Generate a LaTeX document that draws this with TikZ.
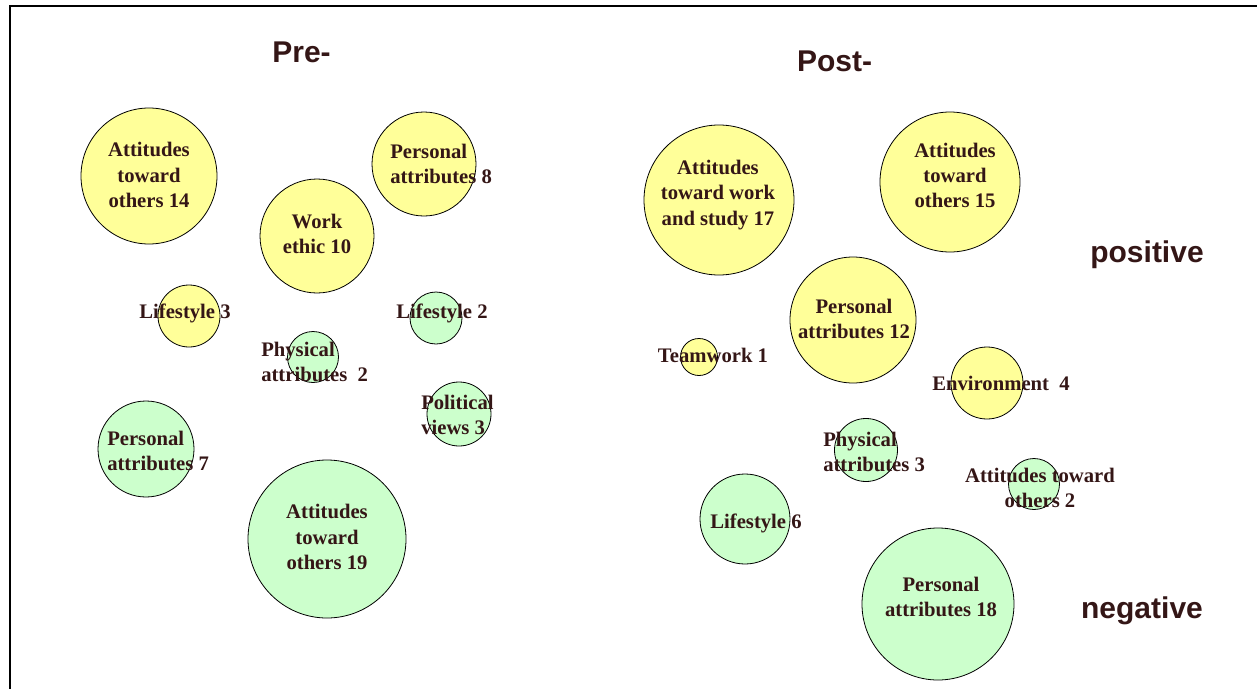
\documentclass[tikz,border=0pt]{standalone}
\usepackage{fontspec}
\setmainfont{Liberation Serif}
\newfontfamily\headsans{Liberation Sans}
\definecolor{bubyellow}{RGB}{255,255,153}
\definecolor{bubgreen}{RGB}{204,255,204}
\definecolor{txtbrown}{RGB}{52,22,22}

\begin{document}
\begin{tikzpicture}[x=0.75pt,y=0.75pt,yscale=-1,xscale=1,
    yelbub/.style={draw=black,line width=0.6pt,fill=bubyellow},
    grnbub/.style={draw=black,line width=0.6pt,fill=bubgreen},
    lbl/.style={inner sep=0pt,text=txtbrown,align=center,font=\bfseries\fontsize{15.5}{18.9}\selectfont},
    lbll/.style={lbl,align=left,anchor=west},
    head/.style={inner sep=0pt,anchor=base,text=txtbrown,font=\headsans\bfseries\fontsize{22.5}{27}\selectfont}]
        \useasboundingbox (0,0) rectangle (1257,689);
        %Frame
        \draw [line width=1.5pt]  (1257,6) -- (10,6) -- (10,689) ;
        %Shape: Circles, pre- (yellow)
        \draw [yelbub] (149,176) circle [radius=68] ;
        \draw [yelbub] (424,164) circle [radius=52] ;
        \draw [yelbub] (317,236) circle [radius=57] ;
        \draw [yelbub] (189,316) circle [radius=31] ;
        %Shape: Circles, pre- (green)
        \draw [grnbub] (436,318) circle [radius=26] ;
        \draw [grnbub] (313,357) circle [radius=25.5] ;
        \draw [grnbub] (459,414) circle [radius=32] ;
        \draw [grnbub] (146,449) circle [radius=48] ;
        \draw [grnbub] (327,539) circle [radius=79] ;
        %Shape: Circles, post- (yellow)
        \draw [yelbub] (719,200) circle [radius=75] ;
        \draw [yelbub] (950,182) circle [radius=70] ;
        \draw [yelbub] (853,320) circle [radius=63] ;
        \draw [yelbub] (699,357) circle [radius=18.5] ;
        \draw [yelbub] (987,383) circle [radius=36] ;
        %Shape: Circles, post- (green)
        \draw [grnbub] (866,450) circle [radius=31.5] ;
        \draw [grnbub] (1034,484) circle [radius=25.5] ;
        \draw [grnbub] (745,519) circle [radius=45] ;
        \draw [grnbub] (938,604) circle [radius=76] ;
        % Text Node
        \draw (301.5,62) node [head] (preHead) {Pre-};
        % Text Node
        \draw (834.5,71) node [head] (postHead) {Post-};
        % Text Node
        \draw (1147,262) node [head] (posHead) {positive};
        % Text Node
        \draw (1142,618) node [head] (negHead) {negative};
        % Text Node
        \draw (149,175) node [lbl] (preAttOthers) {Attitudes\\toward\\others 14};
        % Text Node
        \draw (390,164) node [lbll] (prePersAttr) {Personal\\attributes 8};
        % Text Node
        \draw (317,234) node [lbl] (preWork) {Work\\ethic 10};
        % Text Node
        \draw (185,313) node [lbl] (preLife) {Lifestyle 3};
        % Text Node
        \draw (442,313) node [lbl] (preLifeNeg) {Lifestyle 2};
        % Text Node
        \draw (261,362) node [lbll] (prePhys) {Physical\\attributes\ \ 2};
        % Text Node
        \draw (421,415) node [lbll] (prePol) {Political\\views 3};
        % Text Node
        \draw (107,451) node [lbll] (prePersNeg) {Personal\\attributes 7};
        % Text Node
        \draw (327,537) node [lbl] (preAttNeg) {Attitudes\\toward\\others 19};
        % Text Node
        \draw (718,195) node [lbl] (postAttWork) {Attitudes\\toward work\\and study 17};
        % Text Node
        \draw (955,175.5) node [lbl] (postAttOthers) {Attitudes\\toward\\others 15};
        % Text Node
        \draw (854,319) node [lbl] (postPers) {Personal\\attributes 12};
        % Text Node
        \draw (713,355) node [lbl] (postTeam) {Teamwork 1};
        % Text Node
        \draw (1001,383) node [lbl] (postEnv) {Environment\ \ 4};
        % Text Node
        \draw (823,452) node [lbll] (postPhys) {Physical\\attributes 3};
        % Text Node
        \draw (1040,488) node [lbl] (postAttNeg) {Attitudes toward\\others 2};
        % Text Node
        \draw (756,523) node [lbl] (postLife) {Lifestyle 6};
        % Text Node
        \draw (941,597) node [lbl] (postPersNeg) {Personal\\attributes 18};
\end{tikzpicture}
\end{document}
